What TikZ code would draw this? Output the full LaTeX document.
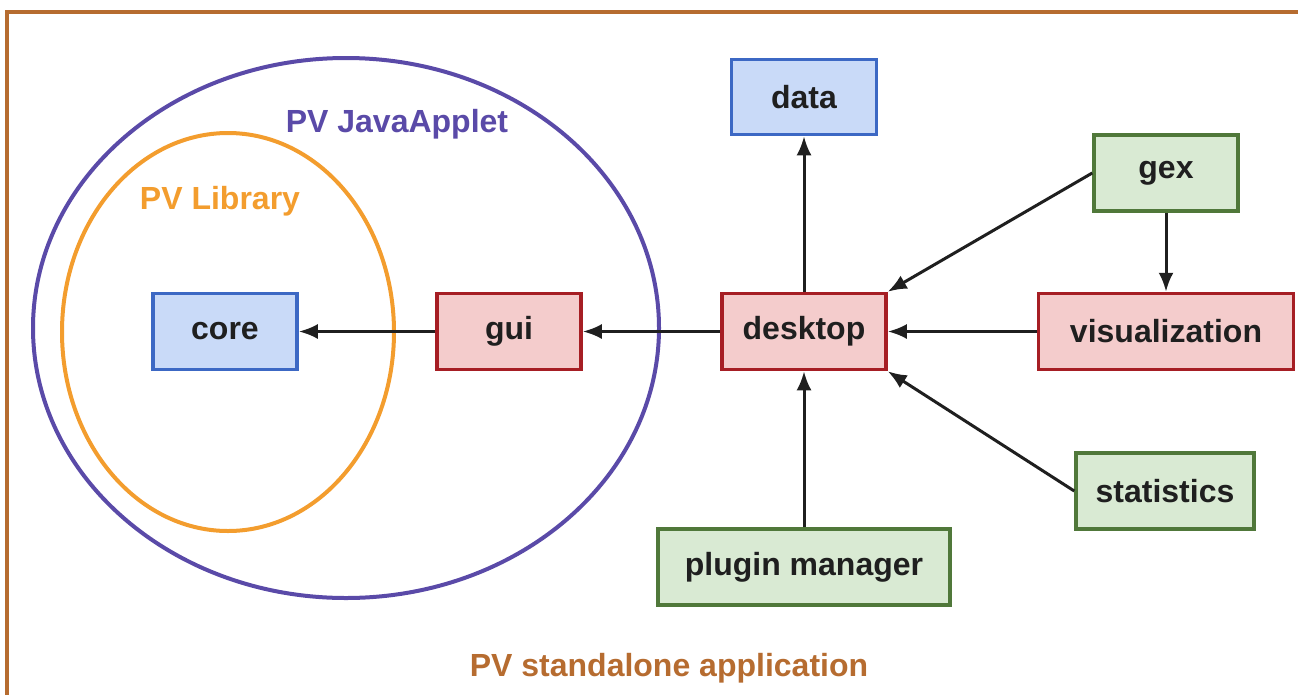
\documentclass[tikz,border=0pt]{standalone}
\usepackage{fontspec}
\setmainfont{Liberation Sans}
\usetikzlibrary{arrows.meta}

\definecolor{frameclr}{RGB}{182,108,48}
\definecolor{appletclr}{RGB}{90,74,168}
\definecolor{libclr}{RGB}{243,157,46}
\definecolor{blueline}{RGB}{60,104,196}
\definecolor{bluefill}{RGB}{201,218,248}
\definecolor{redline}{RGB}{166,30,36}
\definecolor{redfill}{RGB}{244,204,204}
\definecolor{greenline}{RGB}{80,120,58}
\definecolor{greenfill}{RGB}{217,234,211}

\begin{document}
\begin{tikzpicture}[x=1pt,y=-1pt,
    font=\fontsize{32}{36}\selectfont\bfseries,
    mod/.style={draw,line width=3.5pt,inner sep=0pt,minimum height=76pt,text=black!88},
    bluebox/.style={mod,draw=blueline,fill=bluefill},
    redbox/.style={mod,draw=redline,fill=redfill},
    greenbox/.style={mod,draw=greenline,fill=greenfill},
    dep/.style={line width=3pt,-{Latex[length=19pt,width=15pt]},black!88}]
        \useasboundingbox (0,0) rectangle (1298,694);
        \clip (0,0) rectangle (1298,694);
      % outer frame and the two nested groups
      \draw[frameclr,line width=3.5pt] (7,12) rectangle (1320,720);
      \draw[appletclr,line width=4pt] (346,328) ellipse (313 and 270);
      \draw[libclr,line width=4pt] (228,332) ellipse (166 and 199);
      \node[text=frameclr] (standalonelbl) at (669,668) {PV standalone application};
      \node[text=appletclr] (appletlbl) at (397,124) {PV JavaApplet};
      \node[text=libclr] (librarylbl) at (220,201) {PV Library};
      % modules
      \node[bluebox,minimum width=144pt] (core) at (225,331.5) {core};
      \node[redbox,minimum width=144pt] (gui) at (509,331.5) {gui};
      \node[redbox,minimum width=164pt] (desktop) at (804,331.5) {desktop};
      \node[bluebox,minimum width=145pt,minimum height=75pt] (data) at (804,97) {data};
      \node[greenbox,minimum width=144pt] (gex) at (1166,173) {gex};
      \node[redbox,minimum width=255pt] (visualization) at (1166,331.5) {visualization};
      \node[greenbox,minimum width=178pt] (statistics) at (1165,491) {statistics};
      \node[greenbox,minimum width=292pt] (plugin) at (804,567) {plugin manager};
      % dependencies
      \draw[dep] (gui.west) -- (core.east);
      \draw[dep] (desktop.west) -- (gui.east);
      \draw[dep] (desktop.north) -- (data.south);
      \draw[dep] (gex.west) -- (desktop.north east);
      \draw[dep] (gex.south) -- (visualization.north);
      \draw[dep] (visualization.west) -- (desktop.east);
      \draw[dep] (statistics.west) -- (desktop.south east);
      \draw[dep] (plugin.north) -- (desktop.south);
      \end{tikzpicture}
\end{document}
